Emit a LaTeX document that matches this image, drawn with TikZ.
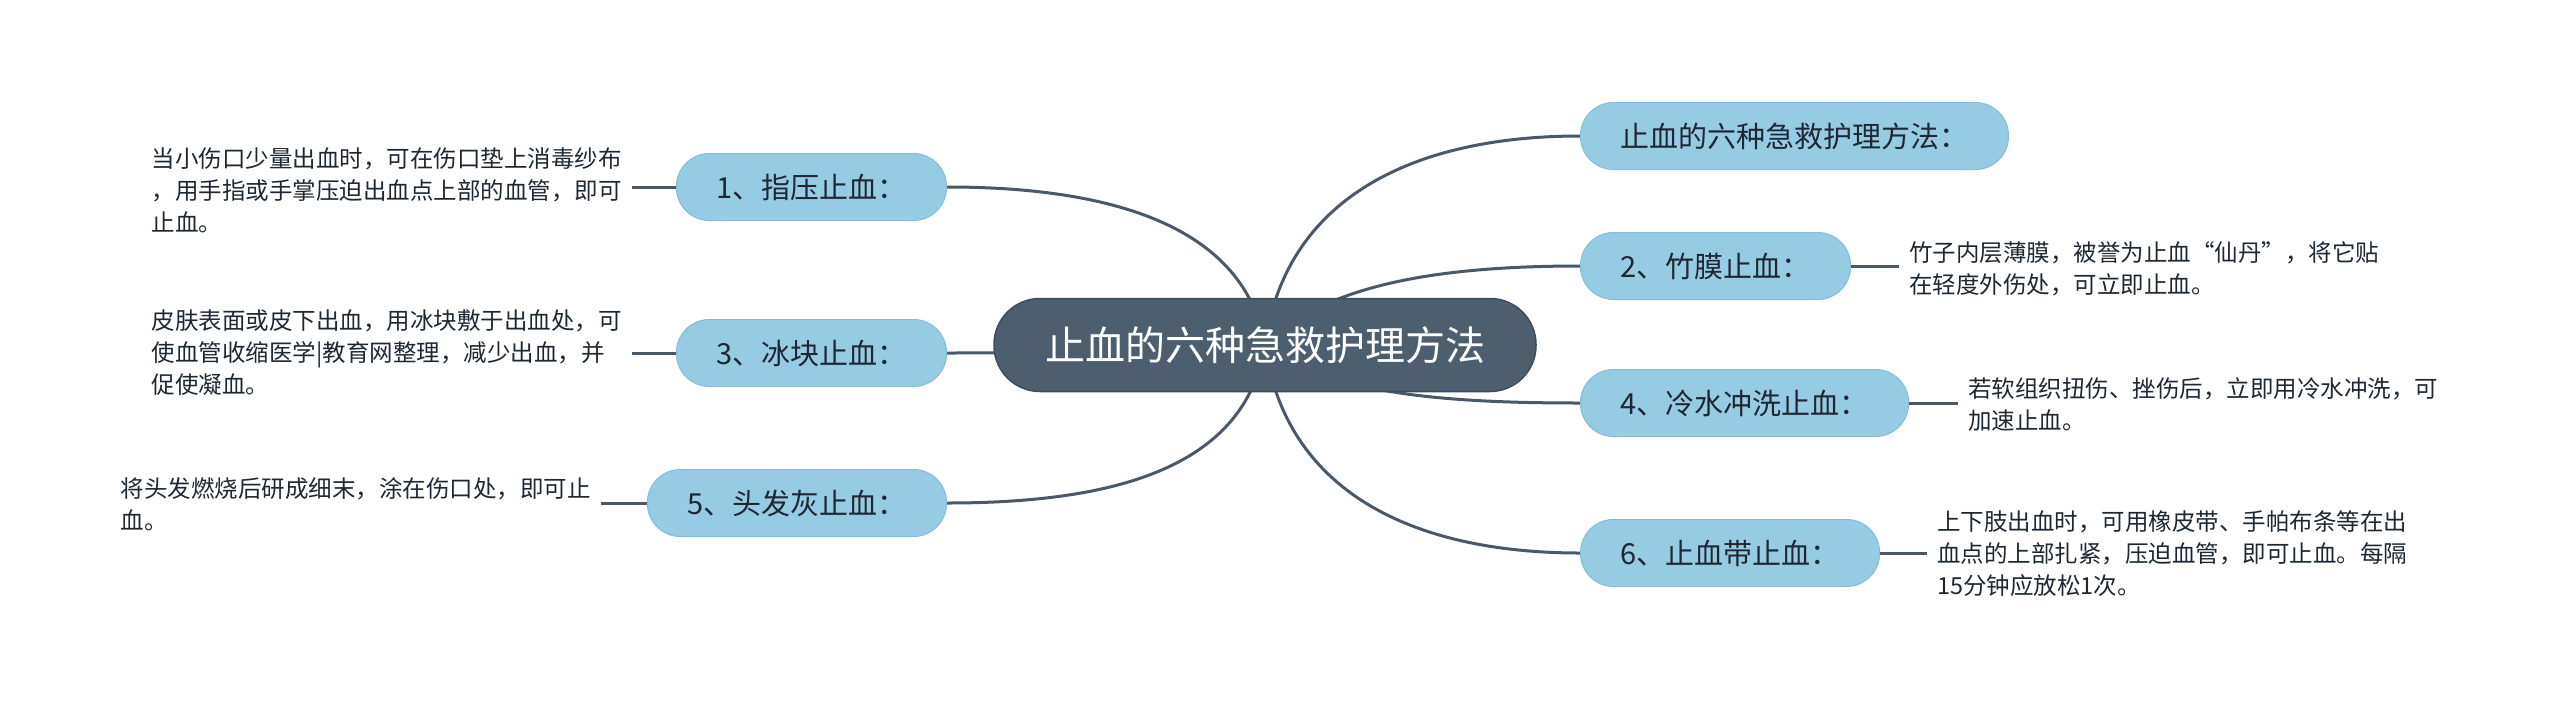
\documentclass[tikz,border=0pt]{standalone}
\usepackage{fontspec}
\setmainfont{Noto Sans CJK SC}
\usetikzlibrary{backgrounds}
\definecolor{hub}{HTML}{4D5E6E}
\definecolor{hubline}{HTML}{3E4D5B}
\definecolor{sub}{HTML}{96CBE4}
\definecolor{subline}{HTML}{85BDD8}
\definecolor{conn}{HTML}{4A5867}
\definecolor{ink}{HTML}{1E2832}
\begin{document}
\begin{tikzpicture}[x=1pt,y=-1pt,
  hubnode/.style={draw=hubline, line width=1.5pt, fill=hub, text=white, rounded corners=46pt, minimum height=93pt, inner xsep=51pt, font=\fontsize{40}{48}\selectfont},
  subnode/.style={draw=subline, line width=1pt, fill=sub, text=ink, rounded corners=33pt, minimum height=67pt, inner xsep=40pt, inner ysep=0pt, font=\fontsize{29}{35}\selectfont},
  leaf/.style={align=left, text=ink, inner xsep=10pt, inner ysep=0pt, font=\fontsize{23.5}{32}\selectfont},
  link/.style={draw=conn, line width=3pt},
  stub/.style={draw=conn, line width=3pt}]
\useasboundingbox (0,0) rectangle (2560,713);
\node[hubnode] (C) at (1265,345) {止血的六种急救护理方法};
\node[subnode, anchor=east] (n1) at (947,187) {1、指压止血：};
\node[subnode, anchor=east] (n3) at (947,353) {3、冰块止血：};
\node[subnode, anchor=east] (n5) at (947,503) {5、头发灰止血：};
\node[subnode, anchor=west] (t0) at (1580,136) {止血的六种急救护理方法：};
\node[subnode, anchor=west] (n2) at (1580,266) {2、竹膜止血：};
\node[subnode, anchor=west] (n4) at (1580,403) {4、冷水冲洗止血：};
\node[subnode, anchor=west] (n6) at (1580,553) {6、止血带止血：};
\node[leaf, anchor=east] (L1) at (632,190) {当小伤口少量出血时，可在伤口垫上消毒纱布\\，用手指或手掌压迫出血点上部的血管，即可\\止血。};
\node[leaf, anchor=east] (L3) at (632,353) {皮肤表面或皮下出血，用冰块敷于出血处，可\\使血管收缩医学|教育网整理，减少出血，并\\促使凝血。};
\node[leaf, anchor=east] (L5) at (601,504) {将头发燃烧后研成细末，涂在伤口处，即可止\\血。};
\node[leaf, anchor=west] (L2) at (1899,269) {竹子内层薄膜，被誉为止血“仙丹”，将它贴\\在轻度外伤处，可立即止血。};
\node[leaf, anchor=west] (L4) at (1958,405) {若软组织扭伤、挫伤后，立即用冷水冲洗，可\\加速止血。};
\node[leaf, anchor=west] (L6) at (1927,554) {上下肢出血时，可用橡皮带、手帕布条等在出\\血点的上部扎紧，压迫血管，即可止血。每隔\\15分钟应放松1次。};
\begin{scope}[on background layer]
\draw[link] (C.center) .. controls (1245,230) and (1120,187) .. (n1.east);
\draw[link] (C.center) .. controls (1100,350) and (1050,353) .. (n3.east);
\draw[link] (C.center) .. controls (1245,470) and (1110,503) .. (n5.east);
\draw[link] (C.center) .. controls (1285,200) and (1410,136) .. (t0.west);
\draw[link] (C.center) .. controls (1320,290) and (1420,266) .. (n2.west);
\draw[link] (C.center) .. controls (1330,395) and (1450,403) .. (n4.west);
\draw[link] (C.center) .. controls (1285,490) and (1410,553) .. (n6.west);
\end{scope}
\draw[stub] (n1.west) -- (n1.west -| L1.east);
\draw[stub] (n3.west) -- (n3.west -| L3.east);
\draw[stub] (n5.west) -- (n5.west -| L5.east);
\draw[stub] (n2.east) -- (n2.east -| L2.west);
\draw[stub] (n4.east) -- (n4.east -| L4.west);
\draw[stub] (n6.east) -- (n6.east -| L6.west);
\end{tikzpicture}
\end{document}
